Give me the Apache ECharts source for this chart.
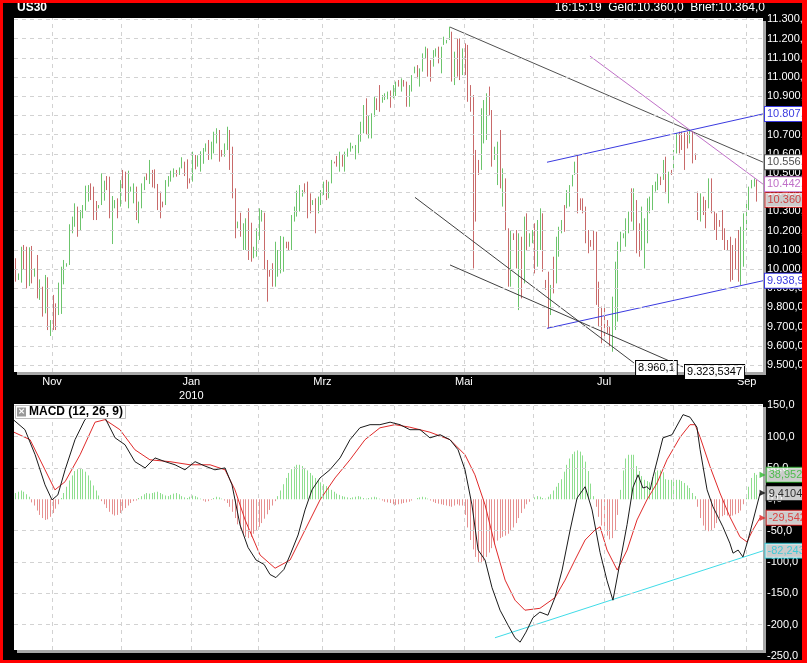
<!DOCTYPE html>
<html><head><meta charset="utf-8">
<script src="https://cdn.jsdelivr.net/npm/echarts@6/dist/echarts.min.js"></script>
<style>
html,body{margin:0;padding:0;background:#000;}
#wrap{position:relative;width:807px;height:663px;overflow:hidden;}
#chart{width:807px;height:663px;}
#frame{position:absolute;left:0;top:0;width:807px;height:663px;box-sizing:border-box;border-style:solid;border-color:#ff0000;border-width:3px 5px 3px 3px;pointer-events:none;}
</style></head>
<body><div id="wrap"><div id="chart"></div><div id="frame"></div></div>
<script>
// ---------- price bars (daily high / low, up=1 green, 0 red) ----------
const highs = [
10056,9977,10116,10125,10116,10113,10120,10003,10073,9946,
9908,9969,9957,9734,9865,9821,9929,10012,10047,10030,
10233,10273,10342,10325,10307,10333,10434,10437,10446,10429,
10354,10333,10498,10460,10484,10481,10380,10359,10368,10463,
10516,10507,10512,10429,10446,10429,10351,10446,10481,10498,
10568,10516,10519,10443,10403,10351,10463,10484,10512,10524,
10516,10529,10582,10559,10571,10472,10611,10594,10592,10613,
10630,10654,10672,10663,10715,10733,10724,10620,10654,10741,
10724,10637,10420,10247,10293,10238,10264,10316,10241,10116,
10212,10316,10307,10293,10047,9995,10030,10142,10099,10172,
10168,10142,10142,10281,10325,10408,10437,10411,10446,10455,
10394,10359,10368,10377,10411,10455,10464,10455,10568,10559,
10589,10611,10594,10611,10628,10658,10641,10646,10698,10767,
10854,10889,10802,10811,10898,10889,10958,10906,10915,10924,
10930,10958,10976,10984,10993,10984,10976,10958,11010,11054,
11062,11045,11123,11158,11149,11088,11140,11149,11158,11158,
11210,11193,11262,11236,11132,11201,11201,11149,11175,11167,
10958,10906,10620,10568,10837,10880,10915,10950,10828,10637,
10663,10724,10524,10472,10212,10203,10186,10203,10186,10168,
10273,10290,10186,10203,10238,10255,10316,10290,9943,9986,
9917,10064,10168,10220,10255,10333,10411,10437,10490,10559,
10594,10368,10368,10325,10203,10151,10203,10194,9934,9804,
9812,9734,9700,9856,10038,10142,10194,10186,10264,10299,
10420,10420,10359,10238,10325,10264,10368,10377,10437,10455,
10498,10481,10568,10585,10507,10516,10620,10707,10715,10715,
10710,10715,10724,10715,10602,10403,10394,10377,10359,10472,
10472,10299,10290,10255,10307,10212,10151,10168,10125,10160,
10203,10220,10290,10342,10429,10464,10472,10464
];
const lows = [
9934,9943,9929,9995,9899,9911,9925,9960,9847,9839,
9752,9769,9682,9651,9682,9682,9760,9766,9920,10012,
10021,10186,10220,10168,10203,10264,10304,10351,10359,10255,
10255,10316,10333,10356,10411,10264,10130,10316,10264,10325,
10420,10351,10316,10403,10342,10255,10238,10316,10411,10463,
10443,10425,10420,10307,10264,10321,10333,10429,10455,10477,
10481,10490,10524,10484,10418,10446,10455,10519,10533,10507,
10548,10611,10568,10571,10602,10654,10559,10585,10585,10620,
10516,10368,10160,10212,10168,10099,10099,10047,10038,10056,
10064,10151,10247,9995,9830,9960,9908,9908,9960,9977,
9986,10108,10099,10099,10247,10273,10299,10377,10394,10264,
10290,10333,10186,10290,10333,10385,10359,10368,10446,10550,
10533,10507,10533,10507,10585,10611,10628,10571,10602,10663,
10707,10698,10680,10680,10793,10828,10819,10866,10880,10884,
10840,10889,10901,10950,10924,10950,10845,10845,10924,11019,
10993,10950,11028,11097,11002,10976,11054,11106,11071,11019,
11167,11175,11193,10976,10958,11002,10984,11010,11010,10871,
10819,10003,10247,10490,10516,10654,10672,10802,10533,10568,
10437,10420,10325,10203,9908,9908,10151,10003,9786,9847,
9925,10099,10116,10134,9977,10012,10099,9986,9891,9691,
9760,9873,9925,10064,10186,10194,10316,10325,10430,10490,
10290,10307,10290,10134,10082,10116,10099,9813,9700,9613,
9630,9665,9596,9569,9682,9726,10090,10160,10116,10186,
10247,10203,10082,10064,10099,10003,10134,10290,10307,10403,
10411,10437,10464,10394,10342,10490,10516,10602,10602,10620,
10516,10628,10654,10550,10568,10255,10247,10281,10212,10316,
10290,10203,10151,10220,10151,10099,10099,9934,9943,9995,
9934,9917,10012,10203,10307,10420,10429,10351
];
const upBar = [
0,1,1,0,0,1,0,1,0,1, 0,1,0,1,0,0,1,1,1,1, 1,1,1,0,1,1,1,1,0,0, 0,1,1,1,0,0,1,1,0,1,
0,0,1,1,1,0,1,1,1,0, 1,0,0,0,0,0,1,1,1,1, 0,1,1,0,0,0,1,0,1,1, 1,1,0,1,1,1,0,0,1,1,
0,0,0,1,0,1,1,0,0,1, 1,1,1,0,0,0,0,1,1,1, 1,0,0,1,1,1,1,1,0,0, 0,1,0,1,1,1,0,1,1,0,
0,1,0,1,1,1,1,1,1,1, 1,0,1,1,1,0,0,1,1,1, 0,1,1,0,1,0,0,1,1,1, 0,1,1,1,0,0,1,1,0,1,
1,1,1,0,1,0,0,1,0,0, 0,0,0,0,1,1,1,0,0,1, 1,0,1,0,0,1,0,0,1,0, 1,0,1,1,0,1,1,0,0,0,
1,0,1,1,1,0,1,1,1,1, 0,0,0,0,0,0,0,0,0,0, 0,0,0,1,1,1,1,1,1,1, 0,1,0,0,1,1,1,1,1,1,
1,0,1,0,1,0,1,1,0,0, 0,0,1,0,0,0,1,0,0,1, 0,0,0,0,0,0,0,0,0,0, 0,1,1,1,1,1,1,0
];

// ---------- x axis (bar index of month starts) ----------
const monthIdx = [13.7, 39.6, 65.8, 90.8, 114.8, 141.5, 167.7, 193.6, 220.1, 246.0, 273.4];
const monthNames = ['Nov','Dez','Jan','Feb','Mrz','Apr','Mai','Jun','Jul','Aug','Sep'];
const labeledMonths = ['Nov','Jan','Mrz','Mai','Jul','Sep'];
const yearLabel = '2010';
const priceTicks = [9500,9600,9700,9800,9900,10000,10100,10200,10300,10400,10500,10600,10700,10800,10900,11000,11100,11200,11300];
const macdTicks = [-250,-200,-150,-100,-50,0,50,100,150];

// ---------- trend lines in price panel ----------
const tlX0 = [162.5, 214.8, 198.75, 198.75, 149.4, 162.5];
const tlY0 = [11260, 11109, 10556, 9691, 10373, 10021];
const tlX1 = [279.5, 279.5, 279.5, 279.5, 231.3, 249.6];
const tlY1 = [10556.4, 10442.0, 10807.7, 9938.93, 9510, 9490];
const tlText = ['10.556,4', '10.442,0', '10.807,7', '9.938,93', '8.960,1', '9.323,5347'];
const lastPrice = 10360;
const lastPriceText = '10.360';

// ---------- MACD (12, 26, 9) ----------
const macdX = [-0.5,3.6,7.4,11.1,13.7,15.9,18.6,22.3,26,29.8,33.5,37.3,41,44.7,48.5,52.2,56,59.7,63.4,67.2,70.9,74.6,78.4,81,84,87,90,93,95.2,97.4,100.4,102.7,105.7,108.3,110.9,113.9,117.6,121.4,125.1,128.8,132.6,136.3,140.1,143.8,147.5,151.3,155,158.8,162.5,165.5,168.1,170.7,173,175.6,178.2,181.2,184.2,186.8,188.7,190.9,193.5,196.1,199.1,201.7,204.4,207.4,210,213,215.6,218.6,221.2,223.4,226,228.7,230.9,232.8,234.6,236.1,237.3,238.4,242.1,245.5,249.6,252.2,254.8,256,258.6,260.8,264.5,267.1,268.3,270.2,272,273.9,276.5,278.4];
const macdY = [126,111,71,23,-1,7,47,95,127,139,130,98,87,60,50,66,60,55,47,60,53,47,50,23,-41,-77,-97,-104,-120,-125,-112,-89,-57,-17,15,34,47,66,95,114,119,119,123,119,111,111,98,103,95,79,47,-9,-81,-97,-141,-177,-201,-221,-228,-212,-189,-180,-185,-157,-113,-49,2,20,-17,-85,-130,-161,-102,-40,19,39,18,20,15,36,98,103,135,131,115,79,15,-12,-44,-70,-86,-81,-92,-65,-22,9.41];
const sigX = [-0.5,5.5,11.1,14.8,18.6,24.2,29.8,33.5,39.1,44.7,50.3,57.8,65.3,72.8,78.4,82.1,85.9,91.5,97.1,102.7,108.3,113.9,119.5,125.1,130.7,136.3,141.9,147.5,155,162.5,168.1,171.8,175.6,179.3,183.1,186.8,190.5,196.1,201.7,205.5,209.2,213,216.7,218.6,221.2,225,228.7,232.4,236.1,239.9,243.6,248.5,252.2,254.1,256,259.7,263.4,267.1,270.9,273.5,275.7,278.4];
const sigY = [107,95,47,15,28,71,123,127,111,79,63,60,55,55,47,15,-33,-89,-110,-97,-49,-1,34,63,95,114,119,115,107,95,71,39,-9,-73,-129,-161,-177,-174,-157,-129,-97,-65,-49,-44,-81,-113,-81,-33,-1,26,63,99,119,119,99,52,10,-28,-60,-68,-49,-29.54];
const histogram = [
10,12,14,12,8,4,
-5,-10,-18,-25,-30,-33,-32,-28,-22,-15,-8,
2,10,20,30,38,45,48,50,48,44,38,30,22,14,6,
-3,-8,-14,-20,-24,-26,-25,-22,-18,-14,-10,-6,-3,-2,2,5,8,10,9,
10,11,12,10,8,6,5,7,9,10,8,5,3,2,4,6,5,3,1,-2,-4,-3,-1,2,4,3,1,-2,-6,-12,
-20,-30,-40,-48,-55,-60,-62,-60,-55,-50,-44,-38,-31,-24,-17,-10,-3,
5,14,24,34,42,48,52,55,55,53,50,46,42,38,34,30,27,24,21,18,15,12,9,
7,5,4,3,2,3,4,5,4,2,1,2,3,4,3,1,-2,-4,-5,-6,-8,-9,-8,-7,-6,-5,-4,-2,0,2,3,4,3,1,-2,-4,-6,-7,-8,-9,-10,-11,-12,-10,-8,-10,
-10,-25,-45,-65,-80,-92,-100,-102,-98,-92,-85,-78,-72,-66,
-62,-60,-58,-55,-50,-45,-38,-30,-22,-15,
-8,-4,0,3,5,4,2,1,
4,8,14,20,26,
32,44,55,65,72,76,78,76,70,60,45,25,5,-12,-28,
-42,-50,-58,-64,-62,-50,-25,
15,46,65,71,71,71,53,45,37,31,29,27,35,43,46,46,43,32,31,31,31,31,31,29,26,22,18,10,5,
-12,-30,-42,-49,-51,-50,-46,-38,-30,-27,-25,-26,-27,-26,-24,-22,-18,-8,
8,20,34,42,39
];
const cyanX = [179.3, 279.5];
const cyanY = [-221, -82.2436];
const macdTagVals = [38.9527, 9.4104, -29.5421, -82.2436];
const macdTagText = ['38,9527', '9,4104', '-29,542', '-82,2436'];

// ---------- helpers ----------
const FONT = '"Liberation Sans Narrow","Liberation Sans",Arial,sans-serif';
const TAGSIZE = 11;
function deFmt(v, dec) {
  const s = Math.abs(v).toFixed(dec);
  let parts = s.split('.');
  let a = parts[0].replace(/\B(?=(\d{3})+(?!\d))/g, '.');
  return (v < 0 ? '-' : '') + a + (parts[1] ? ',' + parts[1] : '');
}
const GREEN = '#6cc46c', RED = '#c86a6a';
const HGREEN = '#8ede8e', HRED = '#e69090';
const GRIDC = '#d2d2d2';

const barData = highs.map((h, i) => [i, lows[i], h, upBar[i]]);
const histData = histogram.map((v, i) => [i, v]);

const tlColors = ['#505050', '#c070c8', '#3a3ae0', '#3a3ae0', '#404040', '#404040'];
const trendSeries = tlX0.map((x0, k) => ({
  type: 'line', xAxisIndex: 0, yAxisIndex: 0, z: 4,
  data: [[x0, tlY0[k]], [tlX1[k], tlY1[k]]],
  symbol: 'none', silent: true,
  lineStyle: { color: tlColors[k], width: 1 },
  endLabel: {
    show: true, formatter: () => tlText[k], distance: 2,
    offset: k >= 4 ? [0, 5] : [0, 0],
    color: k >= 4 ? '#000' : tlColors[k], backgroundColor: '#fff',
    borderColor: k >= 4 ? '#000' : tlColors[k], borderWidth: 1,
    padding: [2, 2, 1, 2], fontSize: TAGSIZE, fontFamily: FONT
  }
}));

const tagColorsM = ['#2eb82e', '#000000', '#e02020', '#20c8d8'];
const macdTagSeries = {
  type: 'scatter', xAxisIndex: 1, yAxisIndex: 1, z: 6, clip: false, silent: true,
  symbolSize: 1, itemStyle: { color: 'rgba(0,0,0,0)' },
  data: macdTagVals.map((v, k) => ({
    value: [279.5, v],
    label: {
      show: true, position: 'right', distance: 0, offset: k < 3 ? [-4, 0] : [2, 0],
      formatter: k < 3 ? '{a|\u25B6}{b|' + macdTagText[k] + '}' : '{b|' + macdTagText[k] + '}',
      rich: {
        a: { color: tagColorsM[k], fontSize: 8, padding: [0, 1, 0, 0], fontFamily: 'DejaVu Sans' },
        b: { color: tagColorsM[k], backgroundColor: '#fff', borderColor: tagColorsM[k], borderWidth: 1,
             padding: [2, 2, 1, 2], fontSize: TAGSIZE, fontFamily: FONT }
      }
    }
  }))
};

const gridCommon = { show: true, backgroundColor: '#fff', borderWidth: 0, outerBoundsMode: 'none', containLabel: false,
  shadowColor: '#a8a8a8', shadowOffsetX: 3, shadowOffsetY: 3, shadowBlur: 0 };

const option = {
  backgroundColor: '#000',
  animation: false,
  title: [
    { text: 'US30', left: 17, top: 2, padding: 0,
      textStyle: { color: '#fff', fontSize: 12, fontWeight: 'bold', fontFamily: '"Liberation Sans",Arial,sans-serif' } },
    { text: '16:15:19  Geld:10.360,0  Brief:10.364,0', right: 42, top: 2, padding: 0,
      textStyle: { color: '#fff', fontSize: 12, fontWeight: 'normal', fontFamily: FONT } },
    { text: '{i|\u00D7}{t|MACD (12, 26, 9)}', left: 15, top: 405, padding: [1, 3, 1, 2],
      backgroundColor: '#fff', borderColor: '#bdbdbd', borderWidth: 1,
      textStyle: { rich: {
        i: { backgroundColor: '#9a9a9a', color: '#fff', width: 9, height: 9, lineHeight: 9, align: 'center', fontSize: 9, fontFamily: 'DejaVu Sans' },
        t: { color: '#000', fontSize: 12, padding: [0, 0, 0, 3], fontFamily: FONT }
      } } }
  ],
  grid: [
    Object.assign({ left: 14, top: 18, width: 749, height: 354 }, gridCommon),
    Object.assign({ left: 14, top: 404, width: 749, height: 246 }, gridCommon),
    { left: 14, top: 404, width: 749, height: 256, show: false, outerBoundsMode: 'none', containLabel: false }
  ],
  xAxis: [
    { gridIndex: 0, type: 'value', min: -0.5, max: 279.5,
      axisLine: { show: false }, axisTick: { show: false }, splitLine: { show: false },
      axisLabel: { show: true, customValues: monthIdx.filter((v, k) => labeledMonths.includes(monthNames[k])),
        color: '#fff', fontSize: 11, fontFamily: FONT, margin: 3, lineHeight: 14,
        formatter: v => { const n = monthNames[monthIdx.indexOf(v)]; return n === 'Jan' ? n + '\n' + yearLabel : n; } } },
    { gridIndex: 1, type: 'value', min: -0.5, max: 279.5, show: false },
    { gridIndex: 2, type: 'value', min: -0.5, max: 279.5, show: false }
  ],
  yAxis: [
    { gridIndex: 0, type: 'value', position: 'right', min: 9463.5, max: 11307.3,
      axisLine: { show: false }, axisTick: { show: false }, splitLine: { show: false },
      axisLabel: { customValues: priceTicks, color: '#fff', fontSize: TAGSIZE, fontFamily: FONT, margin: 4,
        formatter: v => deFmt(v, 1) } },
    { gridIndex: 1, type: 'value', min: -240.5, max: 152, show: false },
    { gridIndex: 2, type: 'value', position: 'right', min: -256.5, max: 152,
      axisLine: { show: false }, axisTick: { show: false }, splitLine: { show: false },
      axisLabel: { customValues: macdTicks, color: '#fff', fontSize: TAGSIZE, fontFamily: FONT, margin: 4,
        formatter: v => deFmt(v, 1) } }
  ],
  series: [
    { type: 'scatter', xAxisIndex: 0, yAxisIndex: 0, z: 1, data: [], silent: true,
      markLine: { silent: true, symbol: ['none', 'none'], label: { show: false },
        lineStyle: { color: GRIDC, type: [4, 4], width: 1 },
        data: monthIdx.map(v => ({ xAxis: v })).concat(priceTicks.map(v => ({ yAxis: v }))) } },
    { type: 'scatter', xAxisIndex: 1, yAxisIndex: 1, z: 1, data: [], silent: true,
      markLine: { silent: true, symbol: ['none', 'none'], label: { show: false },
        lineStyle: { color: GRIDC, type: [4, 4], width: 1 },
        data: monthIdx.map(v => ({ xAxis: v })).concat([-200, -150, -100, -50, 50, 100, 150].map(v => ({ yAxis: v }))) } },
    { type: 'custom', xAxisIndex: 0, yAxisIndex: 0, z: 3, data: barData, silent: true,
      encode: { x: 0, y: [1, 2] },
      renderItem: (params, api) => {
        const i = api.value(0);
        const p1 = api.coord([i, api.value(1)]);
        const p2 = api.coord([i, api.value(2)]);
        const x = Math.round(p1[0]) + 0.5;
        return { type: 'line', shape: { x1: x, y1: p1[1], x2: x, y2: p2[1] },
          style: { stroke: api.value(3) ? GREEN : RED, lineWidth: 1 } };
      } },
    ...trendSeries,
    { type: 'scatter', xAxisIndex: 0, yAxisIndex: 0, z: 6, clip: false, silent: true,
      symbolSize: 1, itemStyle: { color: 'rgba(0,0,0,0)' },
      data: [{ value: [279.5, lastPrice], label: { show: true, position: 'right', distance: 2,
        formatter: lastPriceText, color: '#d02020', backgroundColor: '#fff', borderColor: '#d02020', borderWidth: 1,
        padding: [2, 2, 1, 2], fontSize: TAGSIZE, fontFamily: FONT } }] },
    { type: 'custom', xAxisIndex: 1, yAxisIndex: 1, z: 2, data: histData, silent: true,
      encode: { x: 0, y: 1 },
      renderItem: (params, api) => {
        const i = api.value(0), v = api.value(1);
        const p0 = api.coord([i, 0]);
        const p1 = api.coord([i, v]);
        const x = Math.round(p0[0]) + 0.5;
        return { type: 'line', shape: { x1: x, y1: p0[1], x2: x, y2: p1[1] },
          style: { stroke: v >= 0 ? HGREEN : HRED, lineWidth: 1 } };
      } },
    { type: 'line', xAxisIndex: 1, yAxisIndex: 1, z: 4, symbol: 'none', silent: true,
      data: sigX.map((x, k) => [x, sigY[k]]), lineStyle: { color: '#e02a2a', width: 1 } },
    { type: 'line', xAxisIndex: 1, yAxisIndex: 1, z: 5, symbol: 'none', silent: true,
      data: macdX.map((x, k) => [x, macdY[k]]), lineStyle: { color: '#1a1a1a', width: 1 } },
    { type: 'line', xAxisIndex: 1, yAxisIndex: 1, z: 4, symbol: 'none', silent: true,
      data: cyanX.map((x, k) => [x, cyanY[k]]), lineStyle: { color: '#40dce8', width: 1 } },
    macdTagSeries
  ]
};
const chart = echarts.init(document.getElementById('chart'), null, { renderer: 'canvas' });
chart.setOption(option);
</script>
</body></html>
